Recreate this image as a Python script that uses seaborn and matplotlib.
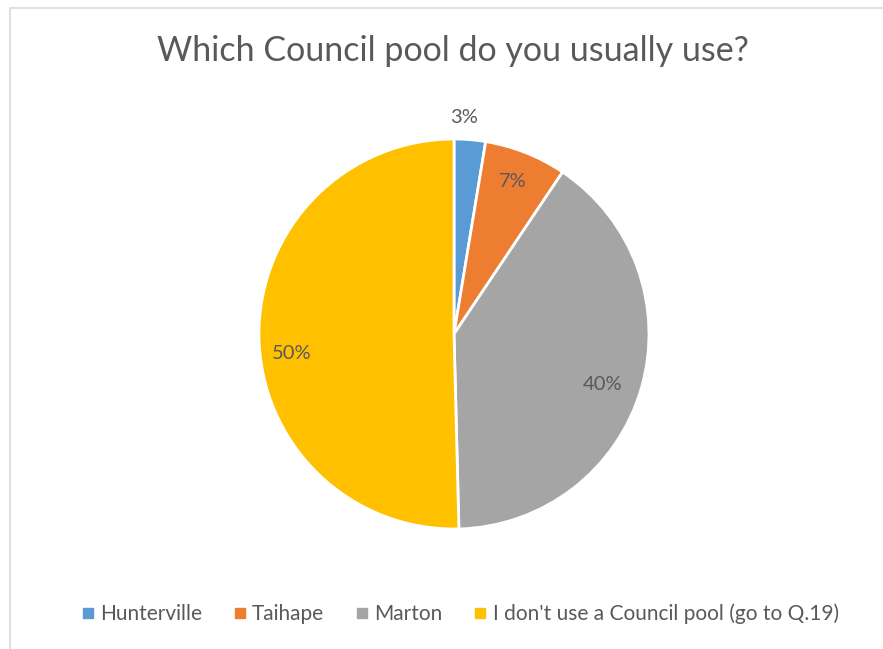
import matplotlib
matplotlib.use("Agg")
import matplotlib.pyplot as plt
from matplotlib.patches import Rectangle
from matplotlib.lines import Line2D
import numpy as np
import seaborn as sns

# Survey responses: share of respondents by pool used (percent)
categories = ["Hunterville", "Taihape", "Marton", "I don't use a Council pool (go to Q.19)"]
shares = [2.6, 6.8, 40.2, 50.4]
colors = ["#5B9BD5", "#ED7D31", "#A5A5A5", "#FFC000"]
title = "Which Council pool do you usually use?"

sns.set_theme(style="white")
plt.rcParams["font.family"] = ["Lato", "DejaVu Sans"]
text_color = "#595959"

fig = plt.figure(figsize=(8.83, 6.49), dpi=100)
W, H = 883, 649

# chart area outline
fig.patches.append(Rectangle((10 / W, -0.01), 1.0, 1 - 7.5 / H + 0.01,
                             transform=fig.transFigure, fill=False,
                             edgecolor="#D9D9D9", linewidth=1.2))

cx, cy, r = 454, 334, 195
ax = fig.add_axes([(cx - r) / W, (H - cy - r) / H, 2 * r / W, 2 * r / H])

palette = sns.color_palette(colors)
wedges, texts, autotexts = ax.pie(
    shares, colors=palette, startangle=90, counterclock=False,
    autopct="%.0f%%", pctdistance=0.82, radius=1,
    wedgeprops=dict(edgecolor="white", linewidth=2),
    textprops=dict(color=text_color, fontsize=14.5),
)
# best-fit label placement; the smallest slice gets its label outside the pie
autotexts[0].set_position((0.05, 1.11))
autotexts[1].set_position((0.30, 0.78))
autotexts[2].set_position((0.76, -0.26))
autotexts[3].set_position((-0.83, -0.10))
ax.set_xlim(-1, 1)
ax.set_ylim(-1, 1)
ax.set_aspect("equal")
ax.axis("off")

fig.text(453 / W, 1 - 51 / H, title, ha="center", va="center",
         fontsize=24.5, color=text_color)

handles = [Line2D([0], [0], marker="s", linestyle="", markersize=7,
                  markerfacecolor=c, markeredgecolor=c) for c in colors]
fig.legend(handles, categories, loc="center", bbox_to_anchor=(458 / W, 1 - 614 / H),
           ncol=4, frameon=False, fontsize=15, labelcolor=text_color,
           handletextpad=0.1, columnspacing=1.3, handlelength=1.0)

fig.savefig("out.png", dpi=100)
